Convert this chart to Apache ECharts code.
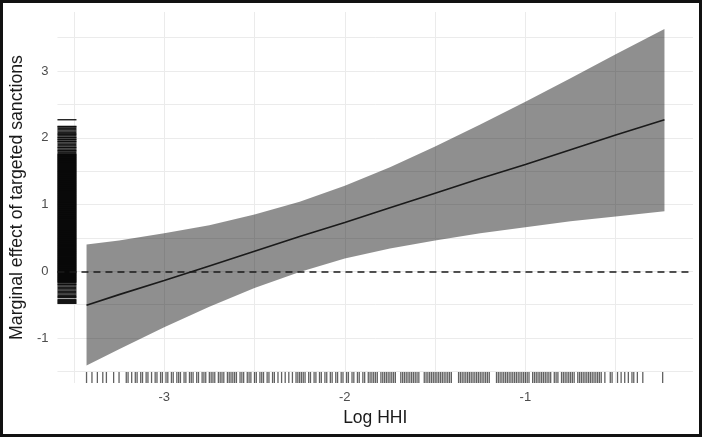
<!DOCTYPE html>
<html><head><meta charset="utf-8">
<script src="https://cdn.jsdelivr.net/npm/echarts@6/dist/echarts.min.js"></script>
<style>html,body{margin:0;padding:0;background:#fff}#c{width:702px;height:438px}</style>
</head><body><div id="c"></div>
<script>
// ---- data ----
const xTickLabels = [-3, -2, -1];
const yTickLabels = [-1, 0, 1, 2, 3];
const xGridValues = [-3.5, -3, -2.5, -2, -1.5, -1, -0.5];
const yGridValues = [-1.5, -1, -0.5, 0, 0.5, 1, 1.5, 2, 2.5, 3, 3.5];
const xRange = [-3.591, -0.072];
const yRange = [-1.674, 3.884];

const logHHI   = [-3.43, -3.25, -3.00, -2.75, -2.50, -2.25, -2.00, -1.75, -1.50, -1.25, -1.00, -0.75, -0.50, -0.23];
const estimate = [-0.51, -0.35, -0.14, 0.08, 0.30, 0.52, 0.73, 0.95, 1.17, 1.39, 1.60, 1.82, 2.04, 2.27];
const upper    = [0.40, 0.46, 0.57, 0.69, 0.85, 1.04, 1.28, 1.56, 1.87, 2.20, 2.54, 2.89, 3.25, 3.63];
const lower    = [-1.41, -1.17, -0.84, -0.53, -0.25, -0.01, 0.19, 0.34, 0.46, 0.57, 0.66, 0.75, 0.82, 0.90];

// rug of observed Log HHI values (bottom)
const rugLogHHI = [
 -3.43,-3.40,-3.37,-3.34,-3.32,-3.28,-3.25,
 -3.21,-3.20,-3.18,-3.16,-3.15,-3.13,-3.12,-3.10,-3.09,-3.07,-3.05,-3.04,-3.02,-3.01,-2.99,-2.98,-2.96,-2.95,-2.93,-2.92,-2.91,-2.89,-2.88,-2.86,-2.85,-2.84,-2.82,-2.81,-2.79,-2.78,-2.77,-2.75,-2.74,-2.73,-2.72,-2.70,-2.69,-2.68,-2.67,-2.65,-2.64,
 -2.63,-2.62,-2.61,-2.60,-2.58,-2.57,-2.56,-2.54,-2.53,-2.52,-2.50,-2.49,-2.47,-2.46,-2.45,-2.43,-2.42,-2.40,-2.39,-2.37,-2.35,-2.33,-2.31,-2.29,-2.27,-2.26,-2.25,-2.24,-2.23,-2.22,-2.20,-2.19,-2.17,-2.16,-2.14,-2.13,-2.11,-2.10,-2.08,-2.07,-2.05,-2.04,-2.02,-2.01,-1.99,-1.98,-1.96,-1.95,-1.93,-1.92,-1.90,-1.89,-1.87,-1.86,-1.85,-1.84,-1.83,-1.82,
 -1.80,-1.79,-1.78,-1.77,-1.76,-1.75,-1.74,-1.73,-1.72,-1.69,-1.68,-1.67,-1.66,-1.65,-1.64,-1.63,-1.62,-1.61,-1.60,-1.59,-1.56,-1.55,-1.54,-1.53,-1.52,-1.51,-1.50,-1.49,-1.48,-1.47,-1.46,-1.45,-1.44,-1.43,-1.42,-1.41,-1.37,-1.36,-1.35,-1.34,-1.33,-1.32,-1.31,-1.30,-1.29,-1.28,-1.27,-1.26,-1.25,-1.24,-1.23,-1.22,-1.21,-1.20,-1.16,-1.15,-1.14,-1.13,-1.12,-1.11,-1.10,-1.09,-1.08,-1.07,-1.06,-1.05,-1.04,-1.03,-1.02,-1.01,-1.00,
 -0.99,-0.98,-0.96,-0.95,-0.94,-0.93,-0.92,-0.91,-0.90,-0.89,-0.88,-0.87,-0.86,-0.84,-0.83,-0.82,-0.80,-0.79,-0.78,-0.77,-0.76,-0.75,-0.74,-0.73,-0.71,-0.70,-0.69,-0.68,-0.67,-0.66,-0.65,-0.64,-0.63,-0.62,-0.61,-0.60,-0.59,-0.58,
 -0.56,-0.53,-0.52,-0.49,-0.47,-0.45,-0.43,-0.41,-0.40,-0.38,-0.35,-0.24
];

// rug of observed marginal-effect values (left)
const rugEffect = [
 2.27,
 2.17,2.16,2.14,2.12,2.10,2.08,2.06,2.05,2.03,2.01,2.00,1.98,1.97,1.95,1.94,1.92,1.90,1.88,1.86,1.85,1.83,1.81,1.80,1.78,1.76,1.75,1.74,1.73,
 1.72,1.71,1.70,1.69,1.68,1.67,1.66,1.65,1.64,1.63,1.62,1.61,1.60,1.59,1.58,1.57,1.56,1.55,1.54,1.53,1.52,1.51,1.50,1.49,1.48,1.47,1.46,1.45,1.44,1.43,1.42,1.41,1.40,
 1.39,1.38,1.37,1.36,1.35,1.34,1.33,1.32,1.31,1.30,1.29,1.28,1.27,1.26,1.25,1.24,1.23,1.22,1.21,1.20,1.19,1.18,1.17,1.16,1.15,1.14,1.13,1.12,1.11,1.10,
 1.09,1.08,1.07,1.06,1.05,1.04,1.03,1.02,1.01,1.00,0.99,0.98,0.97,0.96,0.95,0.94,0.93,0.92,0.91,0.90,0.89,0.88,0.87,0.86,0.85,0.84,0.83,0.82,0.81,0.80,
 0.79,0.78,0.77,0.76,0.75,0.74,0.73,0.72,0.71,0.70,0.69,0.68,0.67,0.66,0.65,0.64,0.63,0.62,0.61,0.60,0.59,0.58,0.57,0.56,0.55,0.54,0.53,0.52,0.51,0.50,
 0.49,0.48,0.47,0.46,0.45,0.44,0.43,0.42,0.41,0.40,0.39,0.38,0.37,0.36,0.35,0.34,0.33,0.32,0.31,0.30,0.29,0.28,0.27,0.26,0.25,0.24,0.23,0.22,0.21,0.20,
 0.19,0.18,0.17,0.16,0.15,0.14,0.13,0.12,0.11,0.10,0.09,0.08,0.07,0.06,0.05,0.04,0.03,0.02,0.01,0.00,
 -0.01,-0.02,-0.03,-0.04,-0.05,-0.06,-0.07,-0.08,-0.09,-0.10,-0.11,-0.12,-0.13,-0.14,-0.15,-0.16,-0.17,-0.19,-0.20,-0.22,-0.24,-0.26,-0.28,-0.30,-0.32,-0.34,-0.36,-0.38,-0.39,-0.42,-0.44,-0.45,-0.47,-0.48
];

// ---- chart ----
const chart = echarts.init(document.getElementById('c'), null, {renderer: 'canvas'});
const FONT = 'Liberation Sans, Arial, Helvetica, sans-serif';
const gridLine = {show: true, lineStyle: {color: '#ebebeb', width: 1}};

const ribbonPoints = logHHI.map((x, i) => [x, upper[i]])
  .concat(logHHI.map((x, i) => [x, lower[i]]).reverse());

chart.setOption({
  animation: false,
  backgroundColor: '#fff',
  grid: {left: 56, right: 9, top: 12, bottom: 55, containLabel: false},
  xAxis: {
    type: 'value', min: xRange[0], max: xRange[1],
    name: 'Log HHI', nameLocation: 'middle', nameGap: 25,
    nameTextStyle: {fontSize: 17.5, color: '#1a1a1a', fontFamily: FONT},
    axisLine: {show: false},
    axisTick: {show: false, customValues: xGridValues},
    axisLabel: {customValues: xTickLabels, fontSize: 13, color: '#4d4d4d', margin: 8, fontFamily: FONT},
    splitLine: gridLine
  },
  yAxis: {
    type: 'value', min: yRange[0], max: yRange[1],
    name: 'Marginal effect of targeted sanctions', nameLocation: 'middle', nameGap: 21,
    nameTextStyle: {fontSize: 17.7, color: '#1a1a1a', fontFamily: FONT},
    axisLine: {show: false},
    axisTick: {show: false, customValues: yGridValues},
    axisLabel: {customValues: yTickLabels, fontSize: 13, color: '#4d4d4d', margin: 9, fontFamily: FONT},
    splitLine: gridLine
  },
  series: [
    {
      type: 'custom', name: 'CI', z: 2, silent: true,
      data: [0],
      renderItem: (params, api) => ({
        type: 'polygon',
        shape: {points: ribbonPoints.map(p => api.coord(p))},
        style: {fill: 'rgba(0,0,0,0.44)', stroke: null}
      })
    },
    {
      type: 'line', name: 'estimate', z: 3, silent: true,
      data: logHHI.map((x, i) => [x, estimate[i]]),
      showSymbol: false, symbol: 'none',
      lineStyle: {color: '#1a1a1a', width: 1.6},
      markLine: {
        symbol: 'none', silent: true, label: {show: false},
        lineStyle: {type: [7, 5], color: '#1a1a1a', width: 1.7},
        data: [{yAxis: 0}]
      }
    },
    {
      type: 'custom', name: 'rugX', z: 4, silent: true, clip: false,
      data: rugLogHHI.map(v => [v]),
      renderItem: (params, api) => {
        const p = api.coord([api.value(0), yRange[0]]);
        return {type: 'line', shape: {x1: p[0], y1: p[1], x2: p[0], y2: p[1] - 11},
          style: {stroke: 'rgba(0,0,0,0.62)', lineWidth: 1.3}};
      }
    },
    {
      type: 'custom', name: 'rugY', z: 4, silent: true, clip: false,
      data: rugEffect.map(v => [xRange[0], v]),
      renderItem: (params, api) => {
        const p = api.coord([xRange[0], api.value(1)]);
        return {type: 'line', shape: {x1: p[0], y1: p[1], x2: p[0] + 19, y2: p[1]},
          style: {stroke: 'rgba(0,0,0,0.88)', lineWidth: 1.4}};
      }
    }
  ],
  graphic: [{
    type: 'rect', z: 100, silent: true,
    shape: {x: 1.5, y: 1.5, width: 699, height: 434},
    style: {fill: null, stroke: '#111', lineWidth: 3}
  }]
});
</script></body></html>
